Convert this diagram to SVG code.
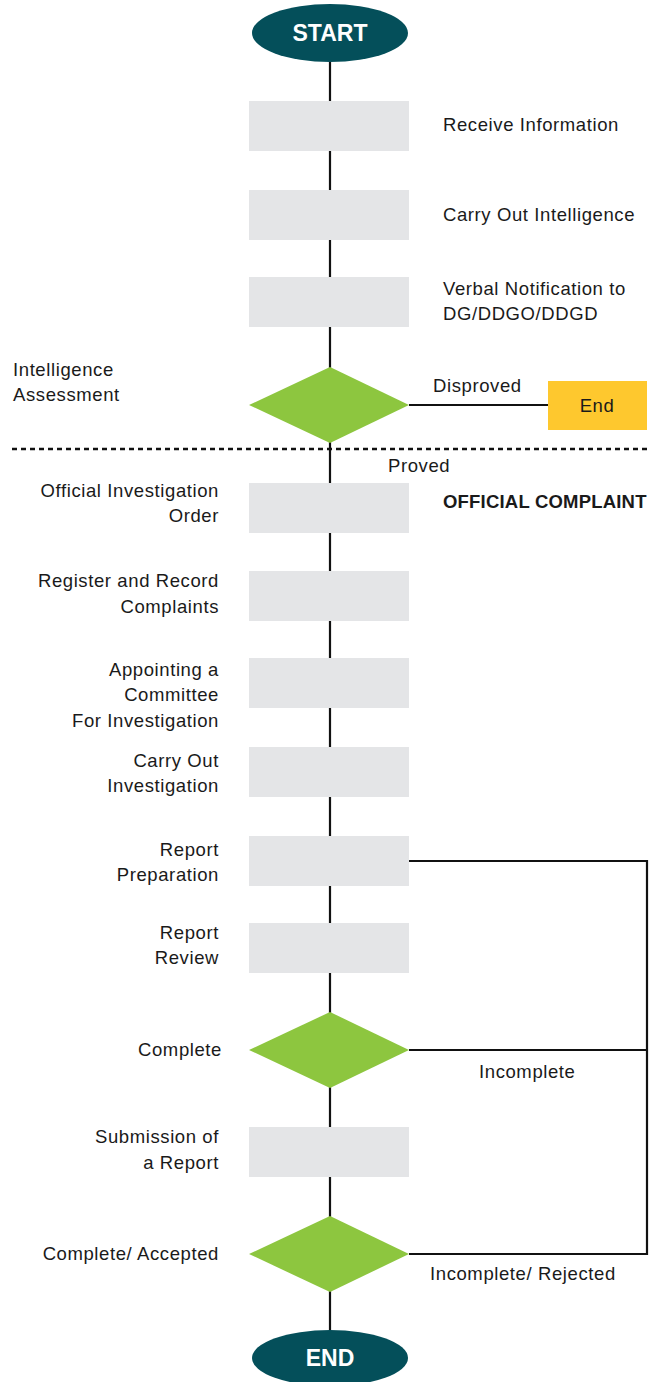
<svg xmlns="http://www.w3.org/2000/svg" width="661" height="1382" viewBox="0 0 661 1382">
<style>
.box{fill:#e4e5e7}
.dia{fill:#8dc63f}
.term{fill:#044f5a}
.t{font-family:"Liberation Sans",Arial,sans-serif;font-size:18.5px;letter-spacing:0.6px;fill:#1a1a1a}
.r{text-anchor:end}
.tt{font-family:"Liberation Sans",Arial,sans-serif;font-size:23px;font-weight:bold;fill:#fff;text-anchor:middle}
.ln{stroke:#111;stroke-width:2.2;fill:none}
</style>
<rect width="661" height="1382" fill="#fff"/>
<g id="connectors">
<line class="ln" x1="330" y1="60" x2="330" y2="1332"/>
<line class="ln" x1="409" y1="405" x2="548" y2="405"/>
<polyline class="ln" points="409,861 647,861 647,1254 409,1254"/>
<line class="ln" x1="409" y1="1050" x2="647" y2="1050"/>
<line x1="12" y1="449" x2="650" y2="449" stroke="#111" stroke-width="2.5" stroke-dasharray="5,4"/>
</g>
<g id="start"><ellipse class="term" cx="330" cy="33" rx="78" ry="29"/><text class="tt" x="330" y="41">START</text></g>
<g id="receive"><rect class="box" x="249" y="101" width="160" height="50"/><text class="t" x="443" y="131">Receive Information</text></g>
<g id="carryint"><rect class="box" x="249" y="190" width="160" height="50"/><text class="t" x="443" y="221">Carry Out Intelligence</text></g>
<g id="verbal"><rect class="box" x="249" y="277" width="160" height="50"/><text class="t" x="443" y="295">Verbal Notification to</text><text class="t" x="443" y="320">DG/DDGO/DDGD</text></g>
<g id="assess"><polygon class="dia" points="330,367 409,405 330,443 249,405"/><text class="t" x="13" y="376">Intelligence</text><text class="t" x="13" y="401">Assessment</text></g>
<g id="end1"><rect x="548" y="381" width="99" height="49" fill="#fec82e"/><text class="t" x="597" y="412" text-anchor="middle">End</text></g>
<text class="t" x="433" y="392">Disproved</text>
<text class="t" x="388" y="472">Proved</text>
<text class="t" x="443" y="508" font-weight="bold" style="letter-spacing:0.2px">OFFICIAL COMPLAINT</text>
<g id="order"><rect class="box" x="249" y="483" width="160" height="50"/><text class="t r" x="219" y="497">Official Investigation</text><text class="t r" x="219" y="522">Order</text></g>
<g id="register"><rect class="box" x="249" y="571" width="160" height="50"/><text class="t r" x="219" y="587">Register and Record</text><text class="t r" x="219" y="613">Complaints</text></g>
<g id="appoint"><rect class="box" x="249" y="658" width="160" height="50"/><text class="t r" x="219" y="676">Appointing a</text><text class="t r" x="219" y="701">Committee</text><text class="t r" x="219" y="727">For Investigation</text></g>
<g id="carryinv"><rect class="box" x="249" y="747" width="160" height="50"/><text class="t r" x="219" y="767">Carry Out</text><text class="t r" x="219" y="792">Investigation</text></g>
<g id="prep"><rect class="box" x="249" y="836" width="160" height="50"/><text class="t r" x="219" y="856">Report</text><text class="t r" x="219" y="881">Preparation</text></g>
<g id="review"><rect class="box" x="249" y="923" width="160" height="50"/><text class="t r" x="219" y="939">Report</text><text class="t r" x="219" y="964">Review</text></g>
<g id="complete"><polygon class="dia" points="330,1012 409,1050 330,1088 249,1050"/><text class="t r" x="222" y="1056">Complete</text></g>
<text class="t" x="479" y="1078">Incomplete</text>
<g id="submit"><rect class="box" x="249" y="1127" width="160" height="50"/><text class="t r" x="219" y="1143">Submission of</text><text class="t r" x="219" y="1169">a Report</text></g>
<g id="accepted"><polygon class="dia" points="330,1216 409,1254 330,1292 249,1254"/><text class="t r" x="219" y="1260">Complete/ Accepted</text></g>
<text class="t" x="430" y="1280">Incomplete/ Rejected</text>
<g id="end"><ellipse class="term" cx="330" cy="1358" rx="78" ry="28"/><text class="tt" x="330" y="1366">END</text></g>
</svg>
